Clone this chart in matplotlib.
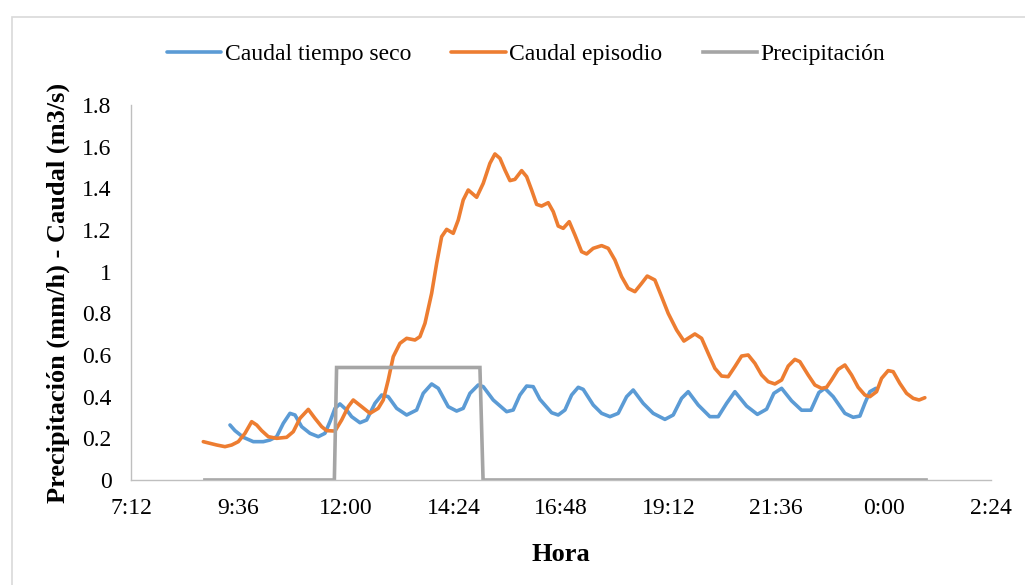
import matplotlib
matplotlib.use("Agg")
import matplotlib.pyplot as plt
from matplotlib.patches import Rectangle
from matplotlib.ticker import FuncFormatter, FixedLocator

# ---- data (time in decimal hours, values in m3/s or mm/h) ----
t_seco = [9.410, 9.521, 9.707, 9.930, 10.153, 10.303, 10.452, 10.600, 10.749, 10.861,
          11.010, 11.196, 11.381, 11.530, 11.642, 11.754, 11.865, 12.015, 12.126, 12.311,
          12.461, 12.646, 12.796, 12.943, 13.131, 13.354, 13.577, 13.724, 13.912, 14.060,
          14.282, 14.470, 14.617, 14.767, 14.952, 15.064, 15.287, 15.586, 15.733, 15.883,
          16.033, 16.180, 16.330, 16.591, 16.738, 16.888, 17.037, 17.185, 17.296, 17.520,
          17.707, 17.893, 18.077, 18.265, 18.412, 18.635, 18.858, 19.120, 19.305, 19.492,
          19.640, 19.863, 20.124, 20.310, 20.497, 20.682, 20.943, 21.184, 21.390, 21.552,
          21.725, 21.948, 22.171, 22.379, 22.558, 22.691, 22.877, 23.138, 23.323, 23.473,
          23.584, 23.696, 23.830]
q_seco = [0.264, 0.237, 0.205, 0.184, 0.184, 0.192, 0.208, 0.272, 0.320, 0.312,
          0.256, 0.224, 0.208, 0.224, 0.280, 0.344, 0.365, 0.336, 0.304, 0.275,
          0.288, 0.368, 0.408, 0.400, 0.344, 0.312, 0.336, 0.416, 0.461, 0.440,
          0.352, 0.331, 0.344, 0.416, 0.456, 0.448, 0.384, 0.328, 0.336, 0.408,
          0.451, 0.448, 0.387, 0.323, 0.312, 0.336, 0.408, 0.445, 0.435, 0.360,
          0.320, 0.304, 0.320, 0.400, 0.432, 0.368, 0.320, 0.291, 0.312, 0.392,
          0.424, 0.360, 0.304, 0.304, 0.368, 0.424, 0.355, 0.315, 0.340, 0.416,
          0.440, 0.380, 0.335, 0.335, 0.420, 0.440, 0.400, 0.320, 0.301, 0.307,
          0.368, 0.424, 0.440]

t_episodio = [8.814, 8.963, 9.113, 9.298, 9.448, 9.595, 9.745, 9.894, 10.006, 10.117,
              10.265, 10.452, 10.675, 10.823, 10.972, 11.158, 11.307, 11.457, 11.568, 11.754,
              11.903, 12.050, 12.162, 12.350, 12.535, 12.720, 12.832, 12.943, 13.055, 13.204,
              13.354, 13.539, 13.651, 13.763, 13.912, 14.024, 14.135, 14.247, 14.394, 14.506,
              14.617, 14.729, 14.917, 15.064, 15.213, 15.325, 15.437, 15.548, 15.660, 15.771,
              15.921, 16.033, 16.144, 16.256, 16.367, 16.515, 16.627, 16.738, 16.850, 16.984,
              17.111, 17.260, 17.372, 17.519, 17.707, 17.854, 18.004, 18.153, 18.301, 18.450,
              18.600, 18.725, 18.896, 19.046, 19.193, 19.381, 19.544, 19.789, 19.939, 20.086,
              20.236, 20.386, 20.533, 20.682, 20.832, 20.979, 21.129, 21.279, 21.426, 21.575,
              21.725, 21.873, 22.021, 22.133, 22.318, 22.468, 22.617, 22.729, 22.840, 22.988,
              23.138, 23.287, 23.434, 23.584, 23.696, 23.845, 23.957, 24.104, 24.216, 24.364,
              24.515, 24.663, 24.795, 24.923]
q_episodio = [0.184, 0.176, 0.168, 0.160, 0.168, 0.184, 0.224, 0.280, 0.264, 0.237,
              0.208, 0.200, 0.205, 0.232, 0.296, 0.339, 0.296, 0.256, 0.237, 0.235,
              0.288, 0.352, 0.384, 0.352, 0.320, 0.344, 0.384, 0.480, 0.592, 0.656,
              0.680, 0.672, 0.688, 0.752, 0.896, 1.040, 1.168, 1.203, 1.184, 1.248,
              1.344, 1.392, 1.357, 1.424, 1.520, 1.565, 1.544, 1.488, 1.437, 1.443,
              1.485, 1.456, 1.392, 1.323, 1.315, 1.331, 1.288, 1.219, 1.208, 1.240,
              1.176, 1.096, 1.085, 1.112, 1.125, 1.112, 1.056, 0.976, 0.920, 0.904,
              0.944, 0.979, 0.960, 0.880, 0.800, 0.720, 0.667, 0.701, 0.680, 0.608,
              0.536, 0.499, 0.496, 0.544, 0.595, 0.600, 0.560, 0.504, 0.472, 0.461,
              0.480, 0.547, 0.579, 0.568, 0.504, 0.456, 0.440, 0.445, 0.480, 0.531,
              0.552, 0.504, 0.445, 0.408, 0.400, 0.424, 0.488, 0.525, 0.520, 0.464,
              0.416, 0.392, 0.384, 0.395]

t_precip = [8.85, 11.74, 11.79, 14.99, 15.06, 24.95]
p_precip = [0.0, 0.0, 0.54, 0.54, 0.0, 0.0]

x_ticks = [7.2, 9.6, 12.0, 14.4, 16.8, 19.2, 21.6, 24.0, 26.4]
y_ticks = [0, 0.2, 0.4, 0.6, 0.8, 1.0, 1.2, 1.4, 1.6, 1.8]

# ---- style ----
plt.rcParams['font.family'] = ['Liberation Serif', 'DejaVu Serif']
W, H = 1025, 585
fig = plt.figure(figsize=(W / 100, H / 100), dpi=100)
fig.patch.set_facecolor('white')

# outer chart border (cropped by image edges)
fig.patches.append(Rectangle((12 / W, -0.1), 1.2, 1 - 17 / H + 0.1,
                             transform=fig.transFigure, fill=False,
                             edgecolor='#d9d9d9', linewidth=1.2))

ax = fig.add_axes([131 / W, 1 - 480 / H, (991 - 131) / W, (480 - 105) / H])

lw = 2.6
ax.plot(t_seco, q_seco, color='#5B9BD5', lw=lw, label='Caudal tiempo seco',
        solid_joinstyle='round', solid_capstyle='round')
ax.plot(t_episodio, q_episodio, color='#ED7D31', lw=lw, label='Caudal episodio',
        solid_joinstyle='round', solid_capstyle='round')
ax.plot(t_precip, p_precip, color='#A5A5A5', lw=lw, label='Precipitación',
        solid_joinstyle='miter')

ax.set_xlim(x_ticks[0], x_ticks[-1])
ax.set_ylim(0, 1.8)
ax.xaxis.set_major_locator(FixedLocator(x_ticks))
ax.yaxis.set_major_locator(FixedLocator(y_ticks))


def fmt_time(v, pos):
    total = int(round(v * 60))
    h = (total // 60) % 24
    m = total % 60
    return f"{h}:{m:02d}"


ax.xaxis.set_major_formatter(FuncFormatter(fmt_time))
ax.yaxis.set_major_formatter(FuncFormatter(lambda v, p: f"{v:g}"))

for s in ['top', 'right']:
    ax.spines[s].set_visible(False)
for s in ['left', 'bottom']:
    ax.spines[s].set_color('#bfbfbf')
    ax.spines[s].set_linewidth(1.0)

ax.tick_params(axis='both', length=0, labelsize=17, colors='black')
ax.tick_params(axis='x', pad=13)
ax.tick_params(axis='y', pad=14)

ax.set_xlabel('Hora', fontsize=19, fontweight='bold', labelpad=17)
ax.set_ylabel('Precipitación (mm/h) - Caudal (m3/s)', fontsize=19,
              fontweight='bold', labelpad=9)

fig.legend(loc='center', bbox_to_anchor=(526 / W, 1 - 54 / H), ncol=3,
           frameon=False, fontsize=17, handlelength=2.3, handletextpad=0.15,
           columnspacing=1.7)

fig.savefig('out.png', dpi=100, facecolor='white')
